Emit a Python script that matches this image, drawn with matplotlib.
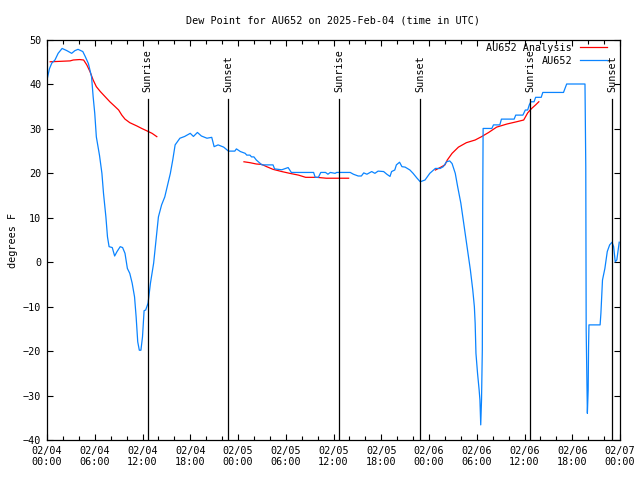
import numpy as np
import matplotlib
matplotlib.use("Agg")
import matplotlib.pyplot as plt
import matplotlib.dates as mdates
from datetime import datetime, timedelta

start = datetime(2025, 2, 4, 0, 0)

# Observations (AU652): hours since start, dew point (F)
obs_hours = [0.0, 0.3, 0.6, 1.0, 1.4, 1.9, 2.5, 3.1, 3.5, 3.9, 4.5, 4.8, 5.2, 5.6, 5.8, 6.0,
             6.2, 6.6, 6.9, 7.1, 7.4, 7.6, 7.8, 8.2, 8.5, 8.8, 9.2, 9.5, 9.8, 10.1, 10.4, 10.7,
             11.0, 11.2, 11.4, 11.6, 11.8, 12.0, 12.2, 12.4, 12.7, 13.0, 13.4, 13.7, 14.0, 14.4,
             14.8, 15.2, 15.5, 15.8, 16.1, 16.7, 17.3, 18.0, 18.4, 18.9, 19.4, 20.1, 20.7, 21.0,
             21.5, 22.2, 22.8, 23.6, 23.8, 24.3, 24.9, 25.1, 25.5, 25.7, 26.0, 26.3, 27.0, 28.4,
             28.6, 29.5, 30.3, 30.7, 33.5, 33.7, 34.1, 34.4, 35.0, 35.3, 35.6, 36.2, 36.4, 38.1,
             38.5, 39.1, 39.5, 39.8, 40.2, 40.8, 41.2, 41.6, 42.3, 42.7, 43.1, 43.3, 43.7, 43.9,
             44.3, 44.6, 45.0, 45.6, 46.0, 46.5, 46.9, 47.5, 48.1, 48.8, 49.4, 49.8, 50.2, 50.6,
             50.9, 51.3, 51.6, 52.0, 52.3, 52.6, 52.9, 53.2, 53.5, 53.7, 53.8, 53.9, 54.1, 54.3,
             54.4, 54.5, 54.6, 54.7, 54.75, 54.8, 55.9, 56.1, 56.9, 57.1, 58.7, 58.9, 59.8, 60.1,
             60.4, 60.6, 60.8, 61.2, 61.4, 62.1, 62.3, 64.9, 65.3, 67.6, 67.7, 67.75, 67.9, 68.0,
             68.05, 68.1, 69.5, 69.6, 69.8, 70.1, 70.4, 70.7, 71.0, 71.2, 71.4, 71.6, 71.9]
obs_values = [41.0, 43.5, 44.8, 45.5, 47.0, 48.1, 47.6, 47.0, 47.6, 47.9, 47.4, 46.3, 44.7, 41.7, 37.2, 33.5,
              28.2, 24.0, 20.0, 15.5, 10.2, 5.7, 3.5, 3.3, 1.4, 2.4, 3.5, 3.3, 2.0, -1.4, -2.5, -4.7,
              -7.8, -12.3, -17.9, -19.8, -19.8, -16.8, -10.9, -10.75, -9.2, -4.7, -0.2, 5.0, 10.2, 12.9,
              14.7, 17.7, 20.0, 23.0, 26.4, 27.9, 28.3, 29.0, 28.3, 29.2, 28.4, 27.9, 28.1, 26.0,
              26.4, 25.9, 25.0, 25.0, 25.5, 24.9, 24.5, 24.1, 24.1, 23.7, 23.7, 23.0, 21.9, 21.9,
              21.0, 20.8, 21.3, 20.2, 20.2, 19.1, 19.1, 20.2, 20.2, 19.8, 20.2, 20.0, 20.2, 20.2,
              19.8, 19.4, 19.4, 20.1, 19.8, 20.4, 20.0, 20.5, 20.4, 19.8, 19.3, 20.4, 20.75, 21.9,
              22.5, 21.5, 21.4, 20.75, 20.0, 18.9, 18.1, 18.5, 20.0, 21.1, 21.1, 21.5, 22.6, 22.8,
              22.2, 20.0, 17.0, 13.3, 9.5, 5.75, 2.0, -1.75, -6.25, -10.0, -13.75, -20.5, -25.0, -28.75,
              -31.0, -36.6, -31.0, -19.75, 13.3, 30.1, 30.1, 30.9, 30.9, 32.2, 32.2, 33.1, 33.1, 34.25,
              34.25, 35.4, 36.1, 36.1, 37.1, 37.1, 38.2, 38.2, 40.1, 40.1, 21.5, -15.25, -34.0, -28.75,
              -19.0, -14.1, -14.1, -11.5, -4.0, -1.4, 2.4, 3.9, 4.5, 3.5, 0.1, 0.5, 4.5]

# Analysis (AU652 Analysis): NaN marks gaps
ana_hours = [0.4, 2.9, 3.3, 4.1, 4.6, 5.0, 5.4, 5.8, 6.2, 6.7, 7.3, 7.9, 8.5, 9.0, 9.4, 9.8,
             10.4, 11.3, 11.9, 12.5, 13.2, 13.8, 19.0,
             24.75, 25.5, 26.3, 27.0, 27.6, 28.4, 29.5, 30.5, 31.6, 32.5, 33.9, 35.1, 37.9, 43.0,
             48.8, 49.4, 50.0, 50.3, 50.9, 51.7, 52.7, 53.8, 54.6, 55.5, 56.5, 57.8, 59.0, 59.9,
             60.4, 60.9, 61.4, 61.8]
ana_values = [45.1, 45.3, 45.5, 45.6, 45.5, 44.4, 42.9, 41.0, 39.5, 38.4, 37.25, 36.1, 35.1, 34.25, 33.1, 32.2,
              31.4, 30.65, 30.1, 29.6, 29.0, 28.25, np.nan,
              22.6, 22.4, 22.1, 22.0, 21.5, 20.9, 20.4, 20.0, 19.6, 19.1, 19.1, 18.9, 18.9, np.nan,
              20.75, 21.3, 21.9, 23.0, 24.5, 25.9, 26.9, 27.5, 28.25, 29.2, 30.4, 31.1, 31.6, 32.0,
              33.6, 34.6, 35.4, 36.1]

sun_hours = [12.63, 22.78, 36.7, 46.87, 60.69, 71.03]
sun_labels = ["Sunrise", "Sunset", "Sunrise", "Sunset", "Sunrise", "Sunset"]

tick_hours = list(range(0, 73, 6))

mono = "DejaVu Sans Mono"
fs = 7.3
red = "#ff0000"
blue = "#0a84ff"

def to_dt(hs):
    return [start + timedelta(hours=h) for h in hs]

fig = plt.figure(figsize=(6.4, 4.8), dpi=100)
ax = fig.add_axes([47/640, 1 - 440/480, 573/640, 400/480])

ax.plot(to_dt(ana_hours), ana_values, color=red, lw=0.9, label="AU652 Analysis")
ax.plot(to_dt(obs_hours), obs_values, color=blue, lw=0.9, label="AU652")

for h, lab in zip(sun_hours, sun_labels):
    t = start + timedelta(hours=h)
    ax.plot([t, t], [-40, 36.7], color="black", lw=0.9)
    ax.text(t, 38.3, lab, rotation=90, ha="center", va="bottom",
            fontsize=fs, family=mono)

ax.set_xlim(start, start + timedelta(hours=72))
ax.set_ylim(-40, 50)
ax.set_yticks(range(-40, 51, 10))
ticks = to_dt(tick_hours)
ax.set_xticks(ticks)
ax.set_xticklabels([t.strftime("%m/%d\n%H:%M") for t in ticks])
ax.xaxis.set_minor_locator(mdates.HourLocator(interval=2))

ax.tick_params(axis="both", which="both", direction="in", top=True, right=True,
               labelsize=fs, width=0.8)
ax.tick_params(which="major", length=4.5, pad=4)
ax.tick_params(which="minor", length=3)
for lab in ax.get_xticklabels() + ax.get_yticklabels():
    lab.set_family(mono)
for s in ax.spines.values():
    s.set_linewidth(0.9)

ax.set_ylabel("degrees F", fontsize=fs, family=mono, labelpad=4)
ax.set_title("Dew Point for AU652 on 2025-Feb-04 (time in UTC)", fontsize=fs,
             family=mono, pad=12)

leg = ax.legend(loc="upper right", bbox_to_anchor=(0.982, 1.0),
                prop={"family": mono, "size": fs}, frameon=False,
                markerfirst=False, handlelength=2.6, handletextpad=0.8,
                borderaxespad=0.0, borderpad=0.3, labelspacing=0.25)
for t in leg.get_texts():
    t.set_ha("right")

fig.savefig("out.png", dpi=100)
